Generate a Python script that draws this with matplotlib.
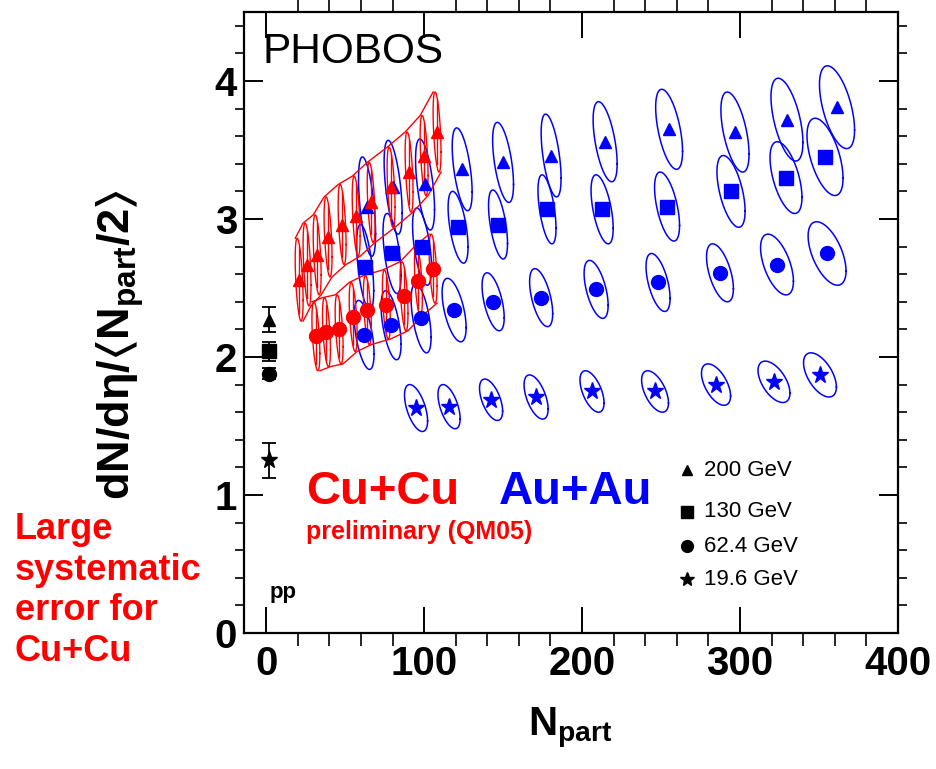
"""PHOBOS dN/deta per participant pair vs Npart, Cu+Cu and Au+Au."""

import numpy as np
import matplotlib
matplotlib.use('Agg')
import matplotlib.pyplot as plt

plt.rcParams['font.family'] = ['Liberation Sans', 'DejaVu Sans']
plt.rcParams['mathtext.fontset'] = 'custom'
plt.rcParams['mathtext.rm'] = 'Liberation Sans'
plt.rcParams['mathtext.bf'] = 'Liberation Sans:bold'
plt.rcParams['mathtext.it'] = 'Liberation Sans:italic'
plt.rcParams['mathtext.fallback'] = 'stixsans'

# ---- Au+Au (blue), one list per energy ----
au200_x = [63.9, 80.4, 100.6, 124.1, 150.0, 180.4, 214.6, 255.1, 296.8, 329.7, 361.4]
au200_y = [3.09, 3.23, 3.25, 3.36, 3.41, 3.46, 3.56, 3.65, 3.63, 3.72, 3.81]
au200_ex = [5.4, 5.7, 6.0, 6.3, 6.6, 6.3, 7.6, 8.5, 8.9, 10.1, 11.1]
au200_ey = [0.36, 0.34, 0.33, 0.30, 0.29, 0.30, 0.29, 0.29, 0.29, 0.30, 0.30]

au130_x = [62.7, 79.7, 98.7, 121.5, 146.8, 177.8, 212.7, 253.8, 294.3, 329.1, 353.8]
au130_y = [2.65, 2.75, 2.80, 2.94, 2.96, 3.07, 3.07, 3.09, 3.20, 3.30, 3.45]
au130_ex = [5.4, 5.7, 6.0, 6.3, 6.0, 5.7, 7.0, 7.9, 8.9, 10.1, 11.4]
au130_ey = [0.31, 0.29, 0.28, 0.26, 0.25, 0.25, 0.25, 0.25, 0.26, 0.26, 0.28]

au62_x = [62.0, 79.1, 98.1, 119.0, 143.7, 174.1, 208.9, 248.1, 287.3, 323.4, 355.1]
au62_y = [2.16, 2.23, 2.28, 2.34, 2.40, 2.43, 2.49, 2.54, 2.61, 2.67, 2.75]
au62_ex = [6.3, 6.3, 6.3, 7.6, 7.0, 7.3, 7.6, 7.6, 8.5, 10.4, 12.0]
au62_ey = [0.25, 0.25, 0.25, 0.23, 0.21, 0.21, 0.21, 0.21, 0.21, 0.22, 0.23]

au19_x = [94.9, 115.8, 142.4, 170.9, 206.3, 246.2, 284.8, 321.5, 350.6]
au19_y = [1.63, 1.64, 1.69, 1.71, 1.75, 1.75, 1.80, 1.82, 1.87]
au19_ex = [7.3, 7.0, 7.3, 7.6, 7.6, 8.5, 9.2, 10.1, 10.4]
au19_ey = [0.17, 0.16, 0.15, 0.16, 0.15, 0.15, 0.15, 0.15, 0.16]

# ---- Cu+Cu preliminary (red) ----
cu200_x = [20.9, 25.9, 32.3, 39.2, 48.1, 57.0, 66.5, 79.1, 90.5, 100.0, 108.2]
cu200_y = [2.56, 2.67, 2.74, 2.87, 2.96, 3.02, 3.12, 3.23, 3.34, 3.46, 3.63]
cu200_ey = [0.30, 0.30, 0.29, 0.29, 0.29, 0.29, 0.29, 0.29, 0.29, 0.29, 0.29]

cu62_x = [31.5, 38.2, 46.2, 55.1, 64.1, 76.1, 87.3, 96.4, 105.7]
cu62_y = [2.15, 2.18, 2.20, 2.29, 2.34, 2.38, 2.44, 2.55, 2.64]
cu62_ey = [0.25, 0.25, 0.25, 0.25, 0.25, 0.25, 0.25, 0.25, 0.25]

# ---- p+p reference at Npart = 2 ----
pp_x = [2, 2, 2, 2]
pp_y = [2.27, 2.04, 1.88, 1.25]
pp_err = [0.09, 0.07, 0.04, 0.13]

energies = ['200 GeV', '130 GeV', '62.4 GeV', '19.6 GeV']
markers = ['^', 's', 'o', '*']
msizes = [9, 10, 10, 12.5]

rho_au = -0.55
rho_cu = -0.5


def contour(ax, x0, y0, sx, sy, rho, color, lw=1.1):
    """Error contour with half-widths sx, sy and correlation rho."""
    t = np.linspace(0, 2 * np.pi, 120)
    phi = np.arccos(rho)
    ax.plot(x0 + sx * np.cos(t), y0 + sy * np.cos(t - phi), color=color, lw=lw, zorder=2)


fig = plt.figure(figsize=(9.36, 7.69), dpi=100)
ax = fig.add_axes([0.2607, 0.1769, 0.6987, 0.8075])

blue = '#0000ff'
red = '#ff0000'

au_sets = [(au200_x, au200_y, au200_ex, au200_ey),
           (au130_x, au130_y, au130_ex, au130_ey),
           (au62_x, au62_y, au62_ex, au62_ey),
           (au19_x, au19_y, au19_ex, au19_ey)]
for (xs, ys, exs, eys), m, ms in zip(au_sets, markers, msizes):
    for x0, y0, sx, sy in zip(xs, ys, exs, eys):
        contour(ax, x0, y0, sx, sy, rho_au, blue)
    ax.plot(xs, ys, ls='none', marker=m, ms=ms, color=blue, mec=blue, zorder=3)

# Cu+Cu: narrow contours, error bars and systematic band edges
cu_sets = [(cu200_x, cu200_y, cu200_ey, '^', 9),
           (cu62_x, cu62_y, cu62_ey, 'o', 10)]
for xs, ys, eys, m, ms in cu_sets:
    xs = np.array(xs)
    ys = np.array(ys)
    eys = np.array(eys)
    sx = 2.5
    for x0, y0, sy in zip(xs, ys, eys):
        contour(ax, x0, y0, sx, sy, rho_cu, red, lw=1.0)
        ax.plot([x0, x0], [y0 - 0.8 * sy, y0 + 0.8 * sy], color=red, lw=1.0, zorder=2)
    ax.plot(xs + rho_cu * 5, ys + eys, color=red, lw=1.0, zorder=2)
    ax.plot(xs - rho_cu * 5, ys - eys, color=red, lw=1.0, zorder=2)
    ax.plot(xs, ys, ls='none', marker=m, ms=ms, color=red, zorder=4)

# p+p
for y0, e, m, ms in zip(pp_y, pp_err, markers, msizes):
    ax.errorbar(pp_x[0], y0, yerr=e, fmt=m, ms=ms, color='black',
                capsize=5, elinewidth=1.3, capthick=1.3, zorder=4)

# legend
leg_y = [1.18, 0.88, 0.63, 0.39]
for ly, lab, m, ms in zip(leg_y, energies, markers, msizes):
    ax.plot([266.5], [ly], marker=m, ms=ms * 0.85, color='black', ls='none')
    ax.text(277, ly, lab, fontsize=16, va='center', ha='left')

ax.text(-2.5, 4.21, 'PHOBOS', fontsize=30.5, va='center', ha='left')
ax.text(25.3, 1.02, 'Cu+Cu', fontsize=34, fontweight='bold', color=red, va='center')
ax.text(147.5, 1.02, 'Au+Au', fontsize=34, fontweight='bold', color=blue, va='center')
ax.text(25.3, 0.73, 'preliminary (QM05)', fontsize=18, fontweight='bold', color=red, va='center')
ax.text(1.9, 0.29, 'pp', fontsize=16, fontweight='bold', va='center')

ax.set_xlim(-14, 400)
ax.set_ylim(0, 4.5)
ax.set_xticks([0, 100, 200, 300, 400])
ax.set_xticks(np.arange(0, 401, 20), minor=True)
ax.set_yticks([0, 1, 2, 3, 4])
ax.set_yticks(np.arange(0, 4.5, 0.2), minor=True)
ax.tick_params(direction='in', top=True, right=True, labelsize=29, width=1.4)
ax.tick_params(axis='x', which='major', length=18.7, pad=9)
ax.tick_params(axis='x', which='minor', length=9.4, width=1.2, top=True)
ax.tick_params(axis='y', which='major', length=13.7, pad=5)
ax.tick_params(axis='y', which='minor', length=6.8, width=1.2, right=True)
for lab in ax.get_xticklabels() + ax.get_yticklabels():
    lab.set_fontweight('bold')
for sp in ax.spines.values():
    sp.set_linewidth(1.6)

fig.text(120 / 936, 1 - 345 / 769, r'$\mathbf{dN/d\eta/\langle N_{part}/2\rangle}$',
         rotation=90, fontsize=32.5, ha='center', va='center')
fig.text(570 / 936, 1 - 728 / 769, r'$\mathbf{N_{part}}$', fontsize=29,
         ha='center', va='center')
fig.text(15 / 936, 1 - 512 / 769, 'Large\nsystematic\nerror for\nCu+Cu',
         fontsize=26, fontweight='bold', color=red, ha='left', va='top',
         linespacing=1.21)

fig.savefig('out.png', dpi=100)
